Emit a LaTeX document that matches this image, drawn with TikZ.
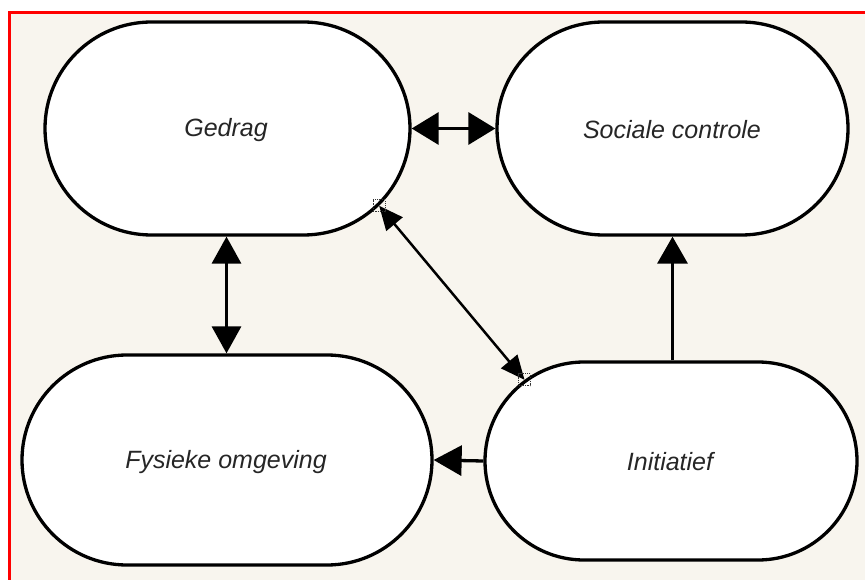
\documentclass[tikz,border=0pt]{standalone}
\usepackage{fontspec}
\setmainfont{Liberation Sans}
\usetikzlibrary{shapes.misc,arrows.meta}
\definecolor{bgcream}{HTML}{F8F5EE}
\definecolor{txtgray}{HTML}{262626}
\begin{document}
\begin{tikzpicture}[x=1pt,y=-1pt,
  pill/.style={rounded rectangle, rounded rectangle arc length=180, draw=black, line width=3.3pt, fill=white,
    inner sep=0pt},
  label/.style={font=\fontsize{25}{30}\selectfont\itshape, text=txtgray},
  thick arrow/.style={line width=3.3pt},
  handle/.style={draw=black!80, densely dotted, line width=1.2pt, minimum size=12pt, inner sep=0pt}]
\useasboundingbox (0,0) rectangle (865,580);
\fill[white] (0,0) rectangle (865,580);
\fill[bgcream] (10,12) rectangle (865,580);
\draw[red, line width=3pt] (9.5,580) -- (9.5,12.5) -- (865,12.5);
\node[pill, minimum width=365pt, minimum height=213pt] (ged) at (227.5,128.5) {};
\node[label] (gedt) at (226,130) {Gedrag};
\node[pill, minimum width=351pt, minimum height=213pt] (soc) at (672.5,128.5) {};
\node[label] (soct) at (672,130) {Sociale controle};
\node[pill, minimum width=410pt, minimum height=210pt] (fys) at (227,460) {};
\node[label] (fyst) at (226,462) {Fysieke omgeving};
\node[pill, minimum width=372pt, minimum height=198pt] (ini) at (671,461) {};
\node[label] (init) at (670,462) {Initiatief};
% connectors
\draw[thick arrow, {Triangle[length=27pt,width=32pt]}-{Triangle[length=27pt,width=32pt]}] (ged.east) -- (soc.west);
\draw[thick arrow, {Triangle[length=27pt,width=29pt]}-{Triangle[length=27pt,width=29pt]}] (ged.south) ++(-1,0) coordinate (gs) (gs) -- (gs |- fys.north);
\draw[thick arrow, -{Triangle[length=27pt,width=30pt]}] (soc.south |- ini.north) coordinate (is) (is) -- (is |- soc.south);
\draw[thick arrow, -{Triangle[length=28pt,width=30pt]}] (ini.west) -- (fys.east);
\draw[line width=2.5pt, {Triangle[length=24pt,width=21pt]}-{Triangle[length=24pt,width=21pt]}] (ged.-27) -- (ini.151);
\node[handle] (h1) at (ged.-27) {};
\node[handle] (h2) at (ini.151) {};
\end{tikzpicture}
\end{document}
